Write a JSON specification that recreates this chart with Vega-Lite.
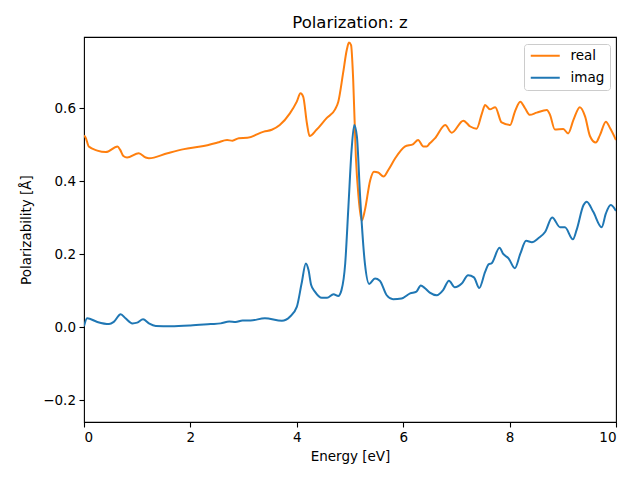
{
  "$schema": "https://vega.github.io/schema/vega-lite/v6.json",
  "autosize": "none",
  "width": 532,
  "height": 385,
  "padding": {"left": 84, "top": 37, "right": 24, "bottom": 58},
  "background": "white",
  "title": {"text": "Polarization: z", "fontSize": 16.5, "font": "DejaVu Sans", "fontWeight": "normal", "color": "#000", "offset": 6, "anchor": "middle"},
  "config": {
    "view": {"stroke": "#000", "strokeWidth": 1.1},
    "axis": {"grid": false, "domain": false, "tickColor": "#000", "tickWidth": 1.1, "tickSize": 5, "labelPadding": 3.5, "labelFont": "DejaVu Sans", "labelFontSize": 13.5, "labelColor": "#000", "titleFont": "DejaVu Sans", "titleFontSize": 13.5, "titleFontWeight": "normal", "titleColor": "#000"}
  },
  "data": {"values": [
    {"e": 0.0, "v": 0.525, "s": "real"},
    {"e": 0.03, "v": 0.52, "s": "real"},
    {"e": 0.09, "v": 0.495, "s": "real"},
    {"e": 0.25, "v": 0.484, "s": "real"},
    {"e": 0.41, "v": 0.48, "s": "real"},
    {"e": 0.63, "v": 0.495, "s": "real"},
    {"e": 0.68, "v": 0.486, "s": "real"},
    {"e": 0.74, "v": 0.469, "s": "real"},
    {"e": 0.81, "v": 0.465, "s": "real"},
    {"e": 1.03, "v": 0.477, "s": "real"},
    {"e": 1.16, "v": 0.465, "s": "real"},
    {"e": 1.22, "v": 0.463, "s": "real"},
    {"e": 1.57, "v": 0.477, "s": "real"},
    {"e": 1.88, "v": 0.488, "s": "real"},
    {"e": 2.19, "v": 0.495, "s": "real"},
    {"e": 2.51, "v": 0.506, "s": "real"},
    {"e": 2.69, "v": 0.513, "s": "real"},
    {"e": 2.79, "v": 0.511, "s": "real"},
    {"e": 2.91, "v": 0.518, "s": "real"},
    {"e": 3.07, "v": 0.519, "s": "real"},
    {"e": 3.38, "v": 0.536, "s": "real"},
    {"e": 3.53, "v": 0.541, "s": "real"},
    {"e": 3.68, "v": 0.554, "s": "real"},
    {"e": 3.87, "v": 0.586, "s": "real"},
    {"e": 4.0, "v": 0.618, "s": "real"},
    {"e": 4.07, "v": 0.641, "s": "real"},
    {"e": 4.12, "v": 0.632, "s": "real"},
    {"e": 4.19, "v": 0.559, "s": "real"},
    {"e": 4.24, "v": 0.524, "s": "real"},
    {"e": 4.37, "v": 0.541, "s": "real"},
    {"e": 4.56, "v": 0.573, "s": "real"},
    {"e": 4.72, "v": 0.597, "s": "real"},
    {"e": 4.78, "v": 0.618, "s": "real"},
    {"e": 4.87, "v": 0.696, "s": "real"},
    {"e": 4.94, "v": 0.76, "s": "real"},
    {"e": 4.98, "v": 0.78, "s": "real"},
    {"e": 5.02, "v": 0.773, "s": "real"},
    {"e": 5.06, "v": 0.678, "s": "real"},
    {"e": 5.11, "v": 0.467, "s": "real"},
    {"e": 5.16, "v": 0.358, "s": "real"},
    {"e": 5.22, "v": 0.292, "s": "real"},
    {"e": 5.28, "v": 0.321, "s": "real"},
    {"e": 5.38, "v": 0.403, "s": "real"},
    {"e": 5.45, "v": 0.426, "s": "real"},
    {"e": 5.53, "v": 0.424, "s": "real"},
    {"e": 5.63, "v": 0.413, "s": "real"},
    {"e": 5.72, "v": 0.431, "s": "real"},
    {"e": 5.85, "v": 0.463, "s": "real"},
    {"e": 6.03, "v": 0.495, "s": "real"},
    {"e": 6.19, "v": 0.502, "s": "real"},
    {"e": 6.28, "v": 0.513, "s": "real"},
    {"e": 6.38, "v": 0.495, "s": "real"},
    {"e": 6.44, "v": 0.495, "s": "real"},
    {"e": 6.5, "v": 0.504, "s": "real"},
    {"e": 6.6, "v": 0.518, "s": "real"},
    {"e": 6.79, "v": 0.554, "s": "real"},
    {"e": 6.91, "v": 0.533, "s": "real"},
    {"e": 7.13, "v": 0.566, "s": "real"},
    {"e": 7.26, "v": 0.55, "s": "real"},
    {"e": 7.38, "v": 0.544, "s": "real"},
    {"e": 7.48, "v": 0.586, "s": "real"},
    {"e": 7.54, "v": 0.609, "s": "real"},
    {"e": 7.63, "v": 0.597, "s": "real"},
    {"e": 7.73, "v": 0.603, "s": "real"},
    {"e": 7.85, "v": 0.561, "s": "real"},
    {"e": 8.01, "v": 0.554, "s": "real"},
    {"e": 8.1, "v": 0.591, "s": "real"},
    {"e": 8.2, "v": 0.618, "s": "real"},
    {"e": 8.29, "v": 0.6, "s": "real"},
    {"e": 8.38, "v": 0.582, "s": "real"},
    {"e": 8.51, "v": 0.588, "s": "real"},
    {"e": 8.7, "v": 0.595, "s": "real"},
    {"e": 8.76, "v": 0.582, "s": "real"},
    {"e": 8.85, "v": 0.542, "s": "real"},
    {"e": 9.01, "v": 0.543, "s": "real"},
    {"e": 9.1, "v": 0.531, "s": "real"},
    {"e": 9.2, "v": 0.568, "s": "real"},
    {"e": 9.32, "v": 0.603, "s": "real"},
    {"e": 9.42, "v": 0.577, "s": "real"},
    {"e": 9.51, "v": 0.524, "s": "real"},
    {"e": 9.62, "v": 0.506, "s": "real"},
    {"e": 9.7, "v": 0.527, "s": "real"},
    {"e": 9.81, "v": 0.563, "s": "real"},
    {"e": 9.89, "v": 0.545, "s": "real"},
    {"e": 10.0, "v": 0.513, "s": "real"},
    {"e": 0.0, "v": 0.003, "s": "imag"},
    {"e": 0.06, "v": 0.025, "s": "imag"},
    {"e": 0.25, "v": 0.015, "s": "imag"},
    {"e": 0.47, "v": 0.009, "s": "imag"},
    {"e": 0.56, "v": 0.015, "s": "imag"},
    {"e": 0.69, "v": 0.036, "s": "imag"},
    {"e": 0.78, "v": 0.025, "s": "imag"},
    {"e": 0.91, "v": 0.011, "s": "imag"},
    {"e": 1.0, "v": 0.013, "s": "imag"},
    {"e": 1.11, "v": 0.022, "s": "imag"},
    {"e": 1.22, "v": 0.011, "s": "imag"},
    {"e": 1.35, "v": 0.004, "s": "imag"},
    {"e": 1.63, "v": 0.003, "s": "imag"},
    {"e": 2.0, "v": 0.005, "s": "imag"},
    {"e": 2.38, "v": 0.009, "s": "imag"},
    {"e": 2.57, "v": 0.011, "s": "imag"},
    {"e": 2.73, "v": 0.016, "s": "imag"},
    {"e": 2.85, "v": 0.015, "s": "imag"},
    {"e": 2.98, "v": 0.019, "s": "imag"},
    {"e": 3.13, "v": 0.019, "s": "imag"},
    {"e": 3.4, "v": 0.025, "s": "imag"},
    {"e": 3.72, "v": 0.018, "s": "imag"},
    {"e": 3.87, "v": 0.029, "s": "imag"},
    {"e": 4.0, "v": 0.056, "s": "imag"},
    {"e": 4.09, "v": 0.12, "s": "imag"},
    {"e": 4.17, "v": 0.175, "s": "imag"},
    {"e": 4.22, "v": 0.157, "s": "imag"},
    {"e": 4.27, "v": 0.116, "s": "imag"},
    {"e": 4.34, "v": 0.098, "s": "imag"},
    {"e": 4.47, "v": 0.081, "s": "imag"},
    {"e": 4.57, "v": 0.081, "s": "imag"},
    {"e": 4.69, "v": 0.091, "s": "imag"},
    {"e": 4.78, "v": 0.086, "s": "imag"},
    {"e": 4.84, "v": 0.102, "s": "imag"},
    {"e": 4.91, "v": 0.175, "s": "imag"},
    {"e": 4.97, "v": 0.33, "s": "imag"},
    {"e": 5.03, "v": 0.486, "s": "imag"},
    {"e": 5.08, "v": 0.554, "s": "imag"},
    {"e": 5.13, "v": 0.522, "s": "imag"},
    {"e": 5.19, "v": 0.358, "s": "imag"},
    {"e": 5.28, "v": 0.175, "s": "imag"},
    {"e": 5.36, "v": 0.119, "s": "imag"},
    {"e": 5.47, "v": 0.134, "s": "imag"},
    {"e": 5.56, "v": 0.128, "s": "imag"},
    {"e": 5.69, "v": 0.088, "s": "imag"},
    {"e": 5.81, "v": 0.077, "s": "imag"},
    {"e": 5.97, "v": 0.079, "s": "imag"},
    {"e": 6.13, "v": 0.093, "s": "imag"},
    {"e": 6.25, "v": 0.098, "s": "imag"},
    {"e": 6.33, "v": 0.115, "s": "imag"},
    {"e": 6.41, "v": 0.107, "s": "imag"},
    {"e": 6.5, "v": 0.095, "s": "imag"},
    {"e": 6.63, "v": 0.088, "s": "imag"},
    {"e": 6.75, "v": 0.102, "s": "imag"},
    {"e": 6.86, "v": 0.128, "s": "imag"},
    {"e": 6.97, "v": 0.11, "s": "imag"},
    {"e": 7.1, "v": 0.12, "s": "imag"},
    {"e": 7.22, "v": 0.143, "s": "imag"},
    {"e": 7.33, "v": 0.137, "s": "imag"},
    {"e": 7.43, "v": 0.108, "s": "imag"},
    {"e": 7.54, "v": 0.152, "s": "imag"},
    {"e": 7.61, "v": 0.173, "s": "imag"},
    {"e": 7.66, "v": 0.175, "s": "imag"},
    {"e": 7.81, "v": 0.218, "s": "imag"},
    {"e": 7.88, "v": 0.201, "s": "imag"},
    {"e": 7.98, "v": 0.189, "s": "imag"},
    {"e": 8.1, "v": 0.162, "s": "imag"},
    {"e": 8.2, "v": 0.201, "s": "imag"},
    {"e": 8.31, "v": 0.237, "s": "imag"},
    {"e": 8.42, "v": 0.233, "s": "imag"},
    {"e": 8.54, "v": 0.244, "s": "imag"},
    {"e": 8.67, "v": 0.262, "s": "imag"},
    {"e": 8.8, "v": 0.301, "s": "imag"},
    {"e": 8.95, "v": 0.274, "s": "imag"},
    {"e": 9.04, "v": 0.274, "s": "imag"},
    {"e": 9.19, "v": 0.241, "s": "imag"},
    {"e": 9.26, "v": 0.267, "s": "imag"},
    {"e": 9.39, "v": 0.335, "s": "imag"},
    {"e": 9.45, "v": 0.344, "s": "imag"},
    {"e": 9.57, "v": 0.317, "s": "imag"},
    {"e": 9.73, "v": 0.274, "s": "imag"},
    {"e": 9.81, "v": 0.312, "s": "imag"},
    {"e": 9.9, "v": 0.335, "s": "imag"},
    {"e": 10.0, "v": 0.319, "s": "imag"}
  ]},
  "mark": {"type": "line", "strokeWidth": 2, "interpolate": "monotone", "clip": true},
  "encoding": {
    "x": {"field": "e", "type": "quantitative", "title": "Energy [eV]",
      "scale": {"domain": [0, 10], "nice": false, "zero": false},
      "axis": {"values": [0, 2, 4, 6, 8, 10], "format": "d", "titlePadding": 5}},
    "y": {"field": "v", "type": "quantitative", "title": "Polarizability [Å]",
      "scale": {"domain": [-0.259, 0.795], "nice": false, "zero": false},
      "axis": {"values": [-0.2, 0, 0.2, 0.4, 0.6], "format": ".1f", "titlePadding": 9}},
    "color": {"field": "s", "type": "nominal", "sort": ["real", "imag"],
      "scale": {"domain": ["real", "imag"], "range": ["#ff7f0e", "#1f77b4"]},
      "legend": {"title": null, "orient": "none", "legendX": 440, "legendY": 7,
        "symbolType": "M-1,0H4.8", "symbolSize": 100, "symbolStrokeWidth": 2,
        "labelFont": "DejaVu Sans", "labelFontSize": 13.5, "labelColor": "#000", "labelOffset": 28,
        "padding": 5, "rowPadding": 7, "strokeColor": "#cccccc", "fillColor": "white", "cornerRadius": 3}},
    "order": {"field": "s", "sort": "descending"}
  }
}
